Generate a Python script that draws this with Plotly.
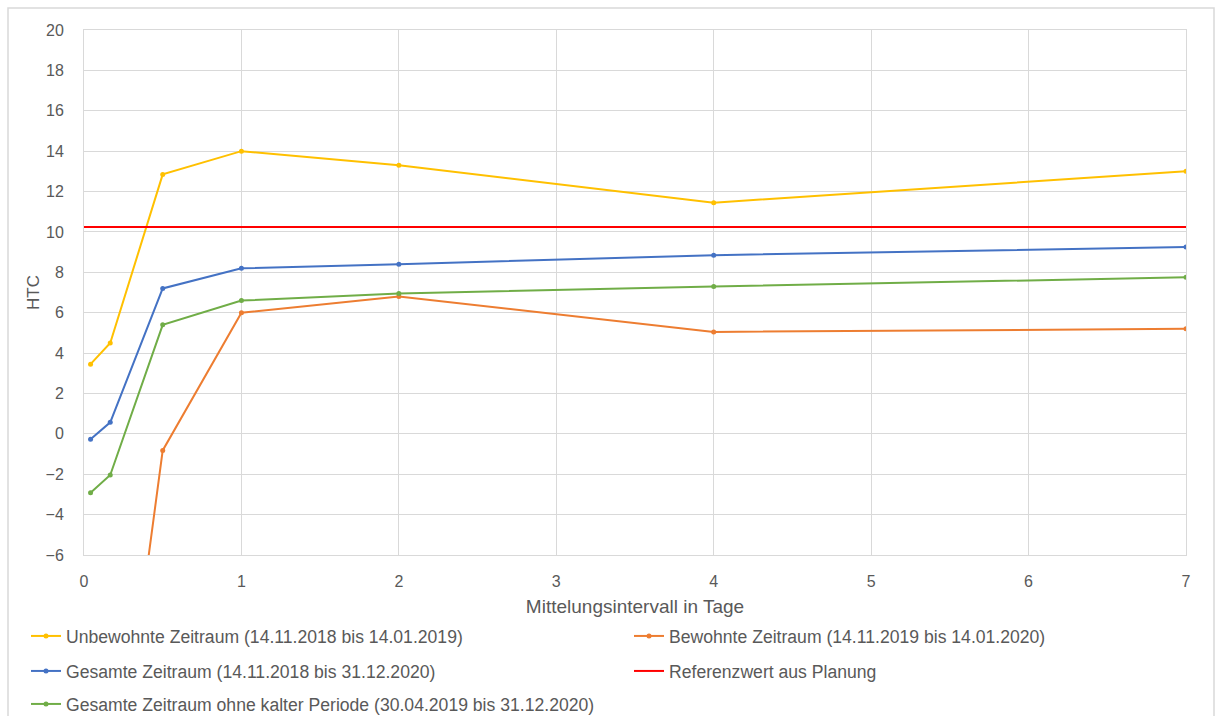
import plotly.graph_objects as go

x_vals = [1/24, 1/6, 0.5, 1, 2, 4, 7]
unbewohnt = [3.45, 4.5, 12.85, 14.0, 13.3, 11.45, 13.0]
bewohnt = [-25.0, -20.3, -0.82, 6.0, 6.8, 5.05, 5.2]
gesamt = [-0.27, 0.57, 7.2, 8.2, 8.4, 8.85, 9.25]
gesamt_ohne = [-2.92, -2.04, 5.4, 6.6, 6.95, 7.3, 7.75]
ref_x = [0, 7]
ref_y = [10.25, 10.25]

names = [
    "Unbewohnte Zeitraum (14.11.2018 bis 14.01.2019)",
    "Bewohnte Zeitraum (14.11.2019 bis 14.01.2020)",
    "Gesamte Zeitraum (14.11.2018 bis 31.12.2020)",
    "Referenzwert aus Planung",
    "Gesamte Zeitraum ohne kalter Periode (30.04.2019 bis 31.12.2020)",
]

FONT = "Liberation Sans"
GREY = "#595959"
L, R, T, B = 84, 32, 30, 161
W, H = 1218, 716
PW, PH = W - L - R, H - T - B


def px_x(p):
    return (p - L) / PW


def px_y(p):
    return (H - B - p) / PH


fig = go.Figure()


def add_series(y, name, color, legend):
    fig.add_trace(go.Scatter(x=x_vals, y=y, name=name, mode="lines+markers",
                             line=dict(color=color, width=2),
                             marker=dict(color=color, size=5), legend=legend))


add_series(unbewohnt, names[0], "#FFC000", "legend")
add_series(bewohnt, names[1], "#ED7D31", "legend2")
add_series(gesamt, names[2], "#4472C4", "legend3")
fig.add_trace(go.Scatter(x=ref_x, y=ref_y, name=names[3], mode="lines",
                         line=dict(color="#FF0000", width=2), legend="legend4"))
add_series(gesamt_ohne, names[4], "#70AD47", "legend5")

leg_font = dict(family=FONT, size=17.6, color=GREY)


def leg(xp, yp):
    return dict(x=px_x(xp), xanchor="left", y=px_y(yp), yanchor="middle",
                bgcolor="rgba(0,0,0,0)", font=leg_font, itemwidth=30,
                orientation="h")


fig.update_layout(
    width=W, height=H,
    margin=dict(l=L, r=R, t=T, b=B, autoexpand=False),
    paper_bgcolor="white", plot_bgcolor="white",
    font=dict(family=FONT, size=16, color=GREY),
    showlegend=True,
    legend=leg(26, 636),
    legend2=leg(629, 636),
    legend3=leg(26, 671),
    legend4=leg(629, 671),
    legend5=leg(26, 704),
    xaxis=dict(range=[0, 7], dtick=1, tick0=0, showgrid=True, gridcolor="#D9D9D9",
               gridwidth=1, zeroline=False, showline=True, mirror=True,
               linecolor="#D9D9D9", ticks="", ticklabelstandoff=12,
               title=dict(text="Mittelungsintervall in Tage", standoff=10,
                          font=dict(family=FONT, size=19, color=GREY)),
               tickfont=dict(family=FONT, size=16, color=GREY)),
    yaxis=dict(range=[-6, 20], dtick=2, tick0=0, showgrid=True, gridcolor="#D9D9D9",
               gridwidth=1, zeroline=False, showline=True, mirror=True,
               linecolor="#D9D9D9", ticks="", ticklabelstandoff=16,
               title=dict(text="HTC", standoff=1,
                          font=dict(family=FONT, size=17, color=GREY)),
               tickfont=dict(family=FONT, size=16, color=GREY)),
    shapes=[dict(type="rect", xref="paper", yref="paper",
                 x0=px_x(8), x1=px_x(1214), y0=px_y(724), y1=px_y(8),
                 line=dict(color="#D9D9D9", width=1.5), layer="below")],
)

fig.write_html("out.html")
